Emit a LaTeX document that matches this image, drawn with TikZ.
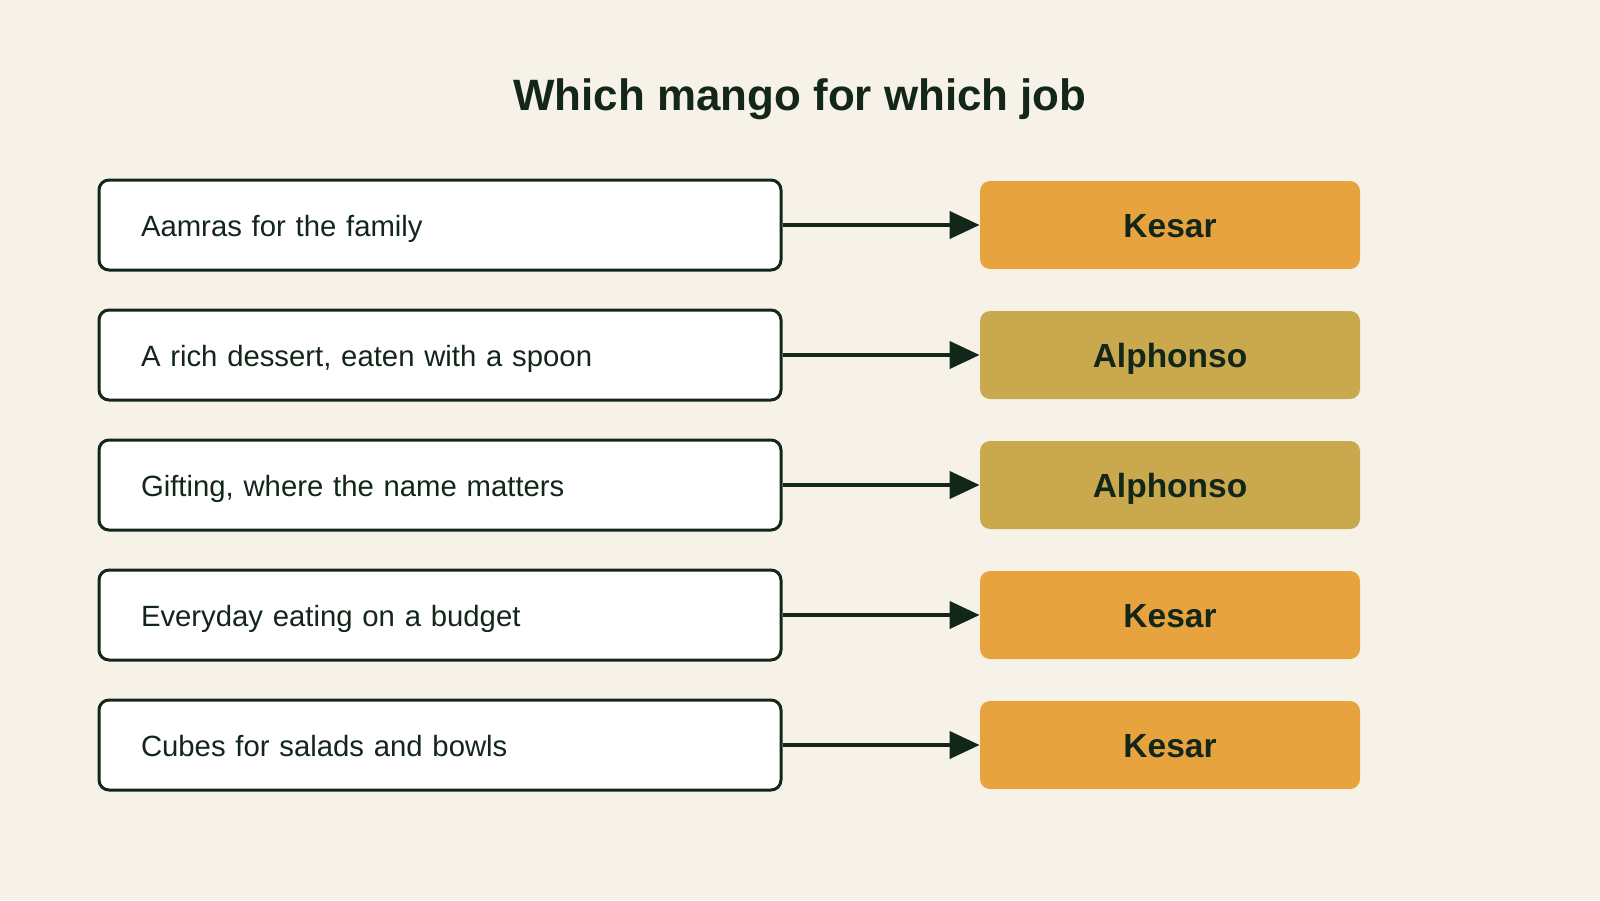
\documentclass[tikz,border=0pt]{standalone}
\usepackage{fontspec}
\setmainfont{Liberation Sans}
\usetikzlibrary{arrows.meta}
\definecolor{bg}{HTML}{F6F2E8}
\definecolor{ink}{HTML}{13261A}
\definecolor{kesar}{HTML}{E7A33E}
\definecolor{alph}{HTML}{C9A84E}
\tikzset{
  usebox/.style={draw=ink, line width=1.5pt, fill=white, rounded corners=5pt,
    text width=299pt, inner xsep=21pt, inner ysep=0pt, align=left,
    text height=28.35pt, text depth=16.65pt, minimum height=45pt,
    font=\fontsize{14.65pt}{18pt}\selectfont, text=ink},
  mango/.style={rounded corners=5pt, minimum width=190pt, minimum height=44pt,
    inner ysep=0pt, text height=28pt, text depth=16pt,
    font=\fontsize{16.75pt}{20pt}\selectfont\bfseries, text=ink},
  kes/.style={mango, fill=kesar},
  alp/.style={mango, fill=alph},
  link/.style={draw=ink, line width=2pt, -{Triangle[length=15pt,width=13.5pt]}},
}
\begin{document}
\begin{tikzpicture}[x=0.5pt,y=-0.5pt]
\fill[bg] (0,0) rectangle (1600,900);
\useasboundingbox (0,0) rectangle (1600,900);
\node[anchor=base, text=ink, font=\fontsize{21.95pt}{26pt}\selectfont\bfseries] (title) at (800,110) {Which mango for which job};

\node[usebox] (u1) at (440,225) {Aamras for the family};
\node[usebox] (u2) at (440,355) {A rich dessert, eaten with a spoon};
\node[usebox] (u3) at (440,485) {Gifting, where the name matters};
\node[usebox] (u4) at (440,615) {Everyday eating on a budget};
\node[usebox] (u5) at (440,745) {Cubes for salads and bowls};

\node[kes] (m1) at (1170,225) {Kesar};
\node[alp] (m2) at (1170,355) {Alphonso};
\node[alp] (m3) at (1170,485) {Alphonso};
\node[kes] (m4) at (1170,615) {Kesar};
\node[kes] (m5) at (1170,745) {Kesar};

\foreach \i in {1,...,5}{
  \draw[link] (u\i.east) -- (m\i.west);
}
\end{tikzpicture}
\end{document}
